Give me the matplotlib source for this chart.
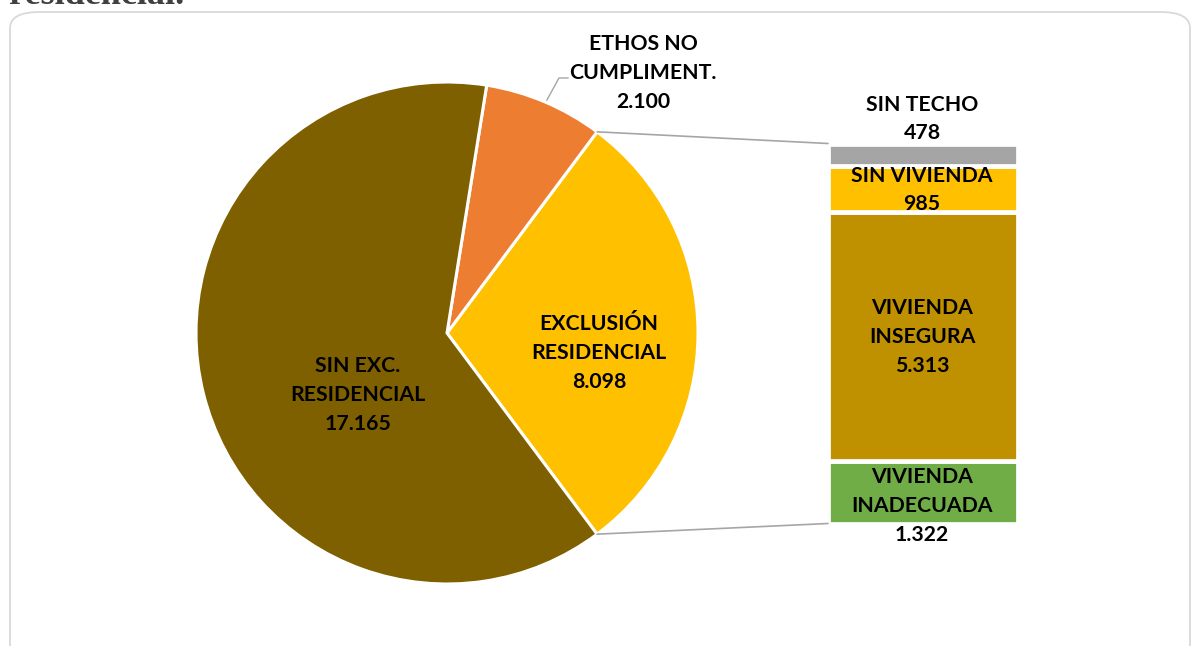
import matplotlib.pyplot as plt
import matplotlib.patches as mpatches
from matplotlib.patches import ConnectionPatch
import numpy as np

# pie data (main split)
pie_labels = ['EXCLUSIÓN\nRESIDENCIAL', 'ETHOS NO\nCUMPLIMENT.', 'SIN EXC.\nRESIDENCIAL']
pie_values = [8098, 2100, 17165]
pie_text = ['8.098', '2.100', '17.165']
pie_colors = ['#FFC000', '#ED7D31', '#7F6000']

# breakdown of exclusion, bottom to top
bar_labels = ['VIVIENDA\nINADECUADA', 'VIVIENDA\nINSEGURA', 'SIN VIVIENDA', 'SIN TECHO']
bar_values = [1322, 5313, 985, 478]
bar_text = ['1.322', '5.313', '985', '478']
bar_colors = ['#70AD47', '#BF9000', '#FFC000', '#A5A5A5']

W, H = 1192, 646
plt.rcParams['font.family'] = ['Lato', 'DejaVu Sans']

fig = plt.figure(figsize=(W / 100, H / 100), dpi=100)


def fx(x):
    return x / W


def fy(y):
    return 1 - y / H


# rounded frame and the cut-off title line above it
frame = mpatches.FancyBboxPatch((fx(10), fy(660)), fx(1180), (660 - 12) / H,
                                boxstyle='round,pad=0,rounding_size=0.025',
                                transform=fig.transFigure, facecolor='none',
                                edgecolor='#D9D9D9', linewidth=1.3, zorder=-1)
fig.patches.append(frame)
fig.text(fx(9), fy(4), 'residencial.', family='Liberation Serif', fontweight='bold',
         fontsize=26, color='#404040', ha='left', va='baseline')

# pie
ax = fig.add_axes([fx(196), fy(584), fx(502), 502 / H])
start = -53.27
wedges, _ = ax.pie(pie_values, colors=pie_colors, startangle=start, counterclock=True,
                   radius=1, wedgeprops=dict(edgecolor='white', linewidth=2.2))
ax.set_xlim(-1, 1)
ax.set_ylim(-1, 1)
ax.set_aspect('equal')
ax.axis('off')

fs = 15.3
ls = 1.55
ax.text(0.606, -0.08, pie_labels[0] + '\n' + pie_text[0], ha='center', va='center',
        fontsize=fs, fontweight='bold', linespacing=ls)
ax.text(-0.355, -0.247, pie_labels[2] + '\n' + pie_text[2], ha='center', va='center',
        fontsize=fs, fontweight='bold', linespacing=ls)
ax.text(0.781, 1.036, pie_labels[1] + '\n' + pie_text[1], ha='center', va='center',
        fontsize=fs, fontweight='bold', linespacing=ls, clip_on=False)
ax.plot([0.398, 0.446, 0.482], [0.928, 1.016, 1.016], color='#A6A6A6', lw=1.0, clip_on=False)

# stacked bar of the exclusion slice
bx = fig.add_axes([fx(828), fy(523.5), fx(190), (523.5 - 143.5) / H])
bottom = 0
for v, c in zip(bar_values, bar_colors):
    bx.bar(0, v, width=1, bottom=bottom, color=c, edgecolor='white', linewidth=3.4)
    bottom += v
bx.set_xlim(-0.5, 0.5)
bx.set_ylim(0, sum(bar_values))
bx.axis('off')

lab_pos = [(922, 506), (922, 337), (922, 190), (922, 119)]
for (x, y), lab, t in zip(lab_pos, bar_labels, bar_text):
    fig.text(fx(x), fy(y), lab + '\n' + t, ha='center', va='center',
             fontsize=fs, fontweight='bold', linespacing=ls)

# connector lines from slice edges to bar corners
total = sum(pie_values)
a0 = np.deg2rad(start)
a1 = np.deg2rad(start + 360 * pie_values[0] / total)
for ang, yb in [(a1, sum(bar_values)), (a0, 0)]:
    con = ConnectionPatch(xyA=(np.cos(ang), np.sin(ang)), coordsA=ax.transData,
                          xyB=(-0.5, yb), coordsB=bx.transData,
                          color='#A6A6A6', lw=1.2)
    fig.add_artist(con)

fig.savefig('out.png', dpi=100)
